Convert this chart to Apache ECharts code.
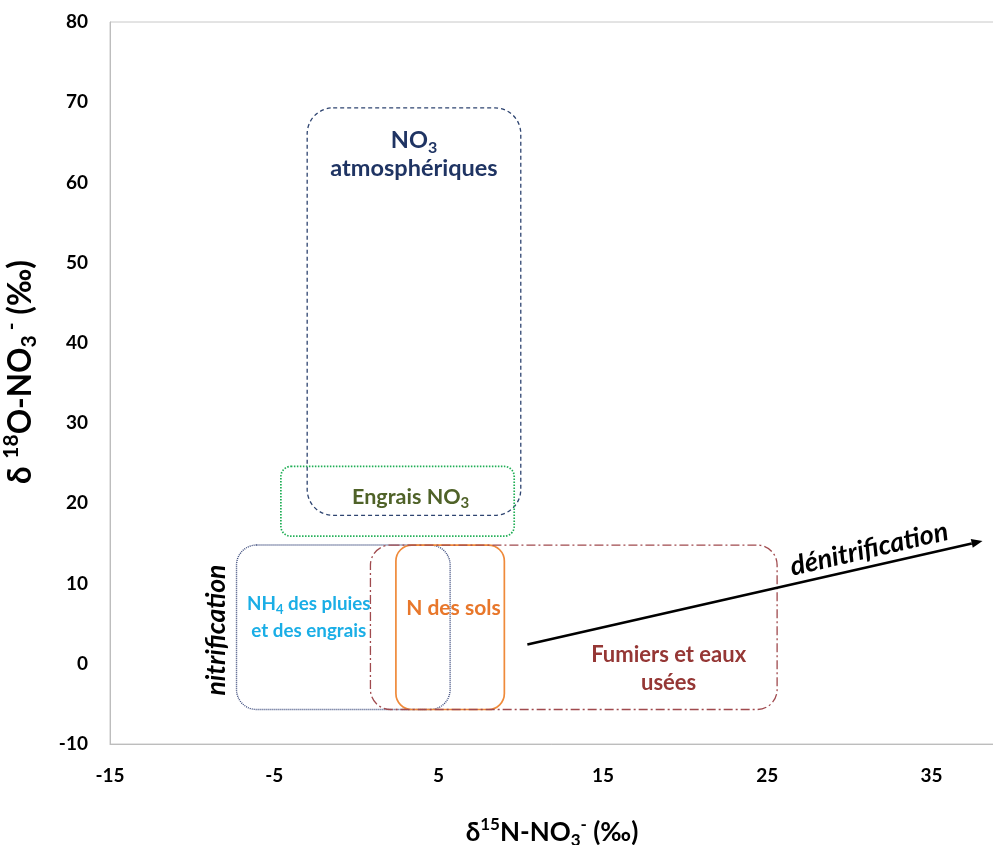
<!DOCTYPE html>
<html>
<head>
<meta charset="utf-8">
<script src="https://cdn.jsdelivr.net/npm/echarts@6/dist/echarts.min.js"></script>
<style>
html,body{margin:0;padding:0;background:#fff;}
#chart{width:993px;height:845px;}
</style>
</head>
<body>
<div id="chart"></div>
<script>
// ---- data ----
const xTickLabels = [-15, -5, 5, 15, 25, 35];
const yTickLabels = [-10, 0, 10, 20, 30, 40, 50, 60, 70, 80];

const boxNames = ['NO3 atmosphériques', 'Engrais NO3', 'NH4 des pluies et des engrais', 'N des sols', 'Fumiers et eaux usées'];
const boxXMin = [-3.0, -4.6, -7.3, 2.4, 0.85];
const boxXMax = [10.0, 9.6, 5.7, 9.0, 25.6];
const boxYMin = [18.5, 15.9, -5.7, -5.7, -5.7];
const boxYMax = [69.3, 24.6, 14.8, 14.8, 14.8];

const labelTexts = ['{b|NO}{s|3}', 'atmosphériques', '{b|Engrais NO}{s|3}', '{b|NH}{s|4}{b| des pluies}', 'et des engrais', 'N des sols', 'Fumiers et eaux', 'usées', 'dénitrification', 'nitrification'];
const labelX = [3.5, 3.5, 3.3, -2.9, -2.9, 5.9, 19.0, 19.0, 31.2, -8.5];
const labelY = [65.3, 61.8, 20.8, 7.4, 4.1, 6.9, 1.1, -2.4, 14.3, 4.2];

const arrowFrom = [10.4, 2.4];
const arrowTo = [38.1, 15.3];

// ---- styles ----
const boxStyles = [
  {stroke: '#2e4470', lineWidth: 1.3, lineDash: [4, 3], r: 26},
  {stroke: '#1fae55', lineWidth: 1.7, lineDash: [1.5, 1.5], r: 10},
  {stroke: '#3b4a7c', lineWidth: 1.4, lineDash: [1, 1], r: 20},
  {stroke: '#ef8a3a', lineWidth: 1.7, lineDash: null, r: 16},
  {stroke: '#a04a4e', lineWidth: 1.3, lineDash: [9, 3, 2, 3], r: 20}
];
const FF = 'Lato, sans-serif';
const F = 'Lato, "Open Sans", sans-serif';
function fontStr(size, italic) {
  return (italic ? 'italic ' : '') + 'bold ' + size + 'px ' + FF;
}
function richFor(color, size, italic) {
  const sub = Math.round(size * 0.68);
  return {
    b: {font: fontStr(size, italic), fill: color, lineHeight: Math.round(size * 1.3)},
    s: {font: fontStr(sub, italic), fill: color, lineHeight: sub + 1, verticalAlign: 'bottom'}
  };
}
const labelStyles = [
  {color: '#1f3463', size: 23.5, rot: 0, italic: false},
  {color: '#1f3463', size: 23.5, rot: 0, italic: false},
  {color: '#4f6228', size: 21.5, rot: 0, italic: false},
  {color: '#1aaee6', size: 18.8, rot: 0, italic: false},
  {color: '#1aaee6', size: 18.8, rot: 0, italic: false},
  {color: '#e8772b', size: 21, rot: 0, italic: false},
  {color: '#953735', size: 22, rot: 0, italic: false},
  {color: '#953735', size: 22, rot: 0, italic: false},
  {color: '#000000', size: 27, rot: 13 * Math.PI / 180, italic: true},
  {color: '#000000', size: 26.5, rot: Math.PI / 2, italic: true}
];

const boxData = boxNames.map((n, i) => [boxXMin[i], boxYMin[i], boxXMax[i], boxYMax[i], i]);
const labelData = labelTexts.map((t, i) => [labelX[i], labelY[i], i]);

const titleRich = function (big, small) {
  return {
    a: {fontFamily: F, fontWeight: 'bold', fontSize: big, color: '#000', lineHeight: Math.round(big * 1.25)},
    p: {fontFamily: F, fontWeight: 'bold', fontSize: small, color: '#000', lineHeight: small, verticalAlign: 'top'},
    s: {fontFamily: F, fontWeight: 'bold', fontSize: small, color: '#000', lineHeight: Math.round(small * 0.9), verticalAlign: 'bottom'}
  };
};

const chart = echarts.init(document.getElementById('chart'), null, {renderer: 'canvas'});
const option = {
  animation: false,
  backgroundColor: '#ffffff',
  grid: {left: 110, right: -1, top: 22, bottom: 101, outerBoundsMode: 'none', containLabel: false,
    show: true, borderColor: '#c8c8c8', borderWidth: 1, backgroundColor: 'transparent'},
  xAxis: {
    type: 'value', min: -15, max: 38.8,
    splitLine: {show: false},
    axisTick: {show: false},
    axisLine: {show: true, onZero: false, lineStyle: {color: '#bdbdbd', width: 1}},
    axisLabel: {customValues: xTickLabels, color: '#000', fontFamily: F, fontWeight: 'bold', fontSize: 19, margin: 22},
    name: '{a|δ}{p|15}{a|N-NO}{s|3}{p|-}{a| (‰)}',
    nameLocation: 'middle', nameGap: 72,
    nameTextStyle: {rich: titleRich(26, 17)}
  },
  yAxis: {
    type: 'value', min: -10, max: 80, interval: 10,
    splitLine: {show: false},
    axisTick: {show: false},
    axisLine: {show: true, onZero: false, lineStyle: {color: '#bdbdbd', width: 1}},
    axisLabel: {color: '#000', fontFamily: F, fontWeight: 'bold', fontSize: 19, margin: 22},
    name: '{a|δ }{p|18}{a|O-NO}{s|3}{p| -}{a| (‰)}',
    nameLocation: 'middle', nameGap: 70, nameRotate: 90,
    nameTextStyle: {rich: titleRich(31.5, 21), padding: [0, 0, 0, 22]}
  },
  series: [
    {
      type: 'custom', name: 'boxes', coordinateSystem: 'cartesian2d',
      data: boxData,
      encode: {x: [0, 2], y: [1, 3]},
      renderItem: function (params, api) {
        const i = api.value(4);
        const p0 = api.coord([api.value(0), api.value(3)]);
        const p1 = api.coord([api.value(2), api.value(1)]);
        const st = boxStyles[i];
        return {
          type: 'rect',
          shape: {x: p0[0], y: p0[1], width: p1[0] - p0[0], height: p1[1] - p0[1], r: st.r},
          style: {fill: null, stroke: st.stroke, lineWidth: st.lineWidth, lineDash: st.lineDash}
        };
      },
      z: 2
    },
    {
      type: 'custom', name: 'arrow', coordinateSystem: 'cartesian2d',
      data: [[arrowFrom[0], arrowFrom[1], arrowTo[0], arrowTo[1]]],
      encode: {x: [0, 2], y: [1, 3]},
      renderItem: function (params, api) {
        const a = api.coord([api.value(0), api.value(1)]);
        const b = api.coord([api.value(2), api.value(3)]);
        const ang = Math.atan2(b[1] - a[1], b[0] - a[0]);
        const L = 11, W = 4.5;
        const bx = b[0] - L * Math.cos(ang), by = b[1] - L * Math.sin(ang);
        const nx = -Math.sin(ang), ny = Math.cos(ang);
        return {
          type: 'group',
          children: [
            {type: 'line', shape: {x1: a[0], y1: a[1], x2: bx, y2: by}, style: {stroke: '#000', lineWidth: 2.6}},
            {type: 'polygon', shape: {points: [[b[0], b[1]], [bx + nx * W, by + ny * W], [bx - nx * W, by - ny * W]]}, style: {fill: '#000'}}
          ]
        };
      },
      z: 3
    },
    {
      type: 'custom', name: 'labels', coordinateSystem: 'cartesian2d',
      data: labelData,
      encode: {x: 0, y: 1},
      renderItem: function (params, api) {
        const i = api.value(2);
        const p = api.coord([api.value(0), api.value(1)]);
        const st = labelStyles[i];
        const txt = labelTexts[i];
        const isRich = txt.indexOf('{') === 0;
        const style = {
          fill: st.color, font: fontStr(st.size, st.italic),
          align: 'center', verticalAlign: 'middle', text: txt
        };
        if (isRich) {
          style.rich = richFor(st.color, st.size, st.italic);
        }
        return {type: 'text', x: p[0], y: p[1], rotation: st.rot, style: style};
      },
      z: 4
    }
  ]
};
chart.setOption(option);
</script>
</body>
</html>
